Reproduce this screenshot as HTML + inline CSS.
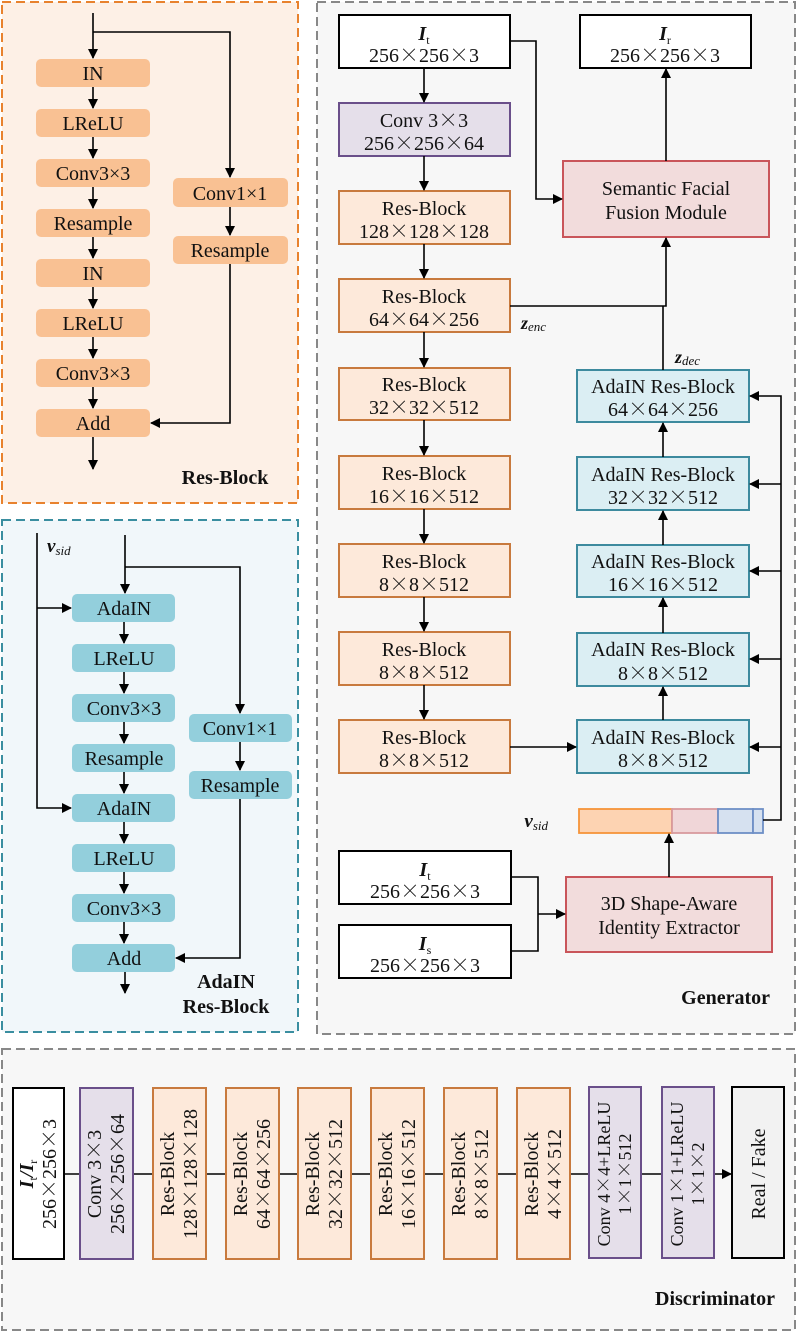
<!DOCTYPE html>
<html><head><meta charset="utf-8"><style>
html,body{margin:0;padding:0;background:#fff;}
svg{display:block;}
text{font-family:"Liberation Serif",serif;fill:#111;}
.x{font-family:"Noto Serif CJK SC","Noto Sans CJK SC",serif;}
</style></head><body>
<svg width="797" height="1333" viewBox="0 0 797 1333" xmlns="http://www.w3.org/2000/svg">
<defs>
<marker id="a" markerWidth="10" markerHeight="10" refX="9" refY="5" orient="auto" markerUnits="userSpaceOnUse">
<path d="M0,0 L10,5 L0,10 z" fill="#000"/></marker>
</defs>
<!-- Res-Block panel -->
<rect x="2" y="2" width="296" height="501" fill="#fdf0e6" stroke="#e8822e" stroke-width="2" stroke-dasharray="9,5"/>
<g fill="#f9c193">
<rect x="36" y="59" width="114" height="28" rx="5"/>
<rect x="36" y="109" width="114" height="28" rx="5"/>
<rect x="36" y="159" width="114" height="28" rx="5"/>
<rect x="36" y="209" width="114" height="28" rx="5"/>
<rect x="36" y="259" width="114" height="28" rx="5"/>
<rect x="36" y="309" width="114" height="28" rx="5"/>
<rect x="36" y="359" width="114" height="28" rx="5"/>
<rect x="36" y="409" width="114" height="28" rx="5"/>
<rect x="173" y="178" width="115" height="29" rx="5"/>
<rect x="173" y="236" width="115" height="28" rx="5"/>
</g>
<g font-size="20" text-anchor="middle">
<text x="93" y="80">IN</text><text x="93" y="130">LReLU</text><text x="93" y="180">Conv3×3</text>
<text x="93" y="230">Resample</text><text x="93" y="280">IN</text><text x="93" y="330">LReLU</text>
<text x="93" y="380">Conv3×3</text><text x="93" y="430">Add</text>
<text x="230" y="200">Conv1×1</text><text x="230" y="257">Resample</text>
</g>
<g stroke="#000" stroke-width="1.6" fill="none">
<line x1="93" y1="13" x2="93" y2="58" marker-end="url(#a)"/>
<line x1="93" y1="87" x2="93" y2="108" marker-end="url(#a)"/>
<line x1="93" y1="137" x2="93" y2="158" marker-end="url(#a)"/>
<line x1="93" y1="187" x2="93" y2="208" marker-end="url(#a)"/>
<line x1="93" y1="237" x2="93" y2="258" marker-end="url(#a)"/>
<line x1="93" y1="287" x2="93" y2="308" marker-end="url(#a)"/>
<line x1="93" y1="337" x2="93" y2="358" marker-end="url(#a)"/>
<line x1="93" y1="387" x2="93" y2="408" marker-end="url(#a)"/>
<line x1="93" y1="437" x2="93" y2="469" marker-end="url(#a)"/>
<polyline points="93,32 230,32 230,177" marker-end="url(#a)"/>
<line x1="230" y1="207" x2="230" y2="235" marker-end="url(#a)"/>
<polyline points="230,264 230,423 151,423" marker-end="url(#a)"/>
</g>
<text x="225" y="484" font-size="20" font-weight="bold" text-anchor="middle">Res-Block</text>

<!-- AdaIN panel -->
<rect x="2" y="520" width="296" height="512" fill="#f1f7fa" stroke="#3a8ea0" stroke-width="2" stroke-dasharray="9,5"/>
<g fill="#93cfdc">
<rect x="72" y="594" width="103" height="28" rx="5"/>
<rect x="72" y="644" width="103" height="28" rx="5"/>
<rect x="72" y="694" width="103" height="28" rx="5"/>
<rect x="72" y="744" width="103" height="28" rx="5"/>
<rect x="72" y="794" width="103" height="28" rx="5"/>
<rect x="72" y="844" width="103" height="28" rx="5"/>
<rect x="72" y="894" width="103" height="28" rx="5"/>
<rect x="72" y="944" width="103" height="28" rx="5"/>
<rect x="189" y="714" width="103" height="28" rx="5"/>
<rect x="189" y="771" width="103" height="28" rx="5"/>
</g>
<g font-size="20" text-anchor="middle">
<text x="124" y="615">AdaIN</text><text x="124" y="665">LReLU</text><text x="124" y="715">Conv3×3</text>
<text x="124" y="765">Resample</text><text x="124" y="815">AdaIN</text><text x="124" y="865">LReLU</text>
<text x="124" y="915">Conv3×3</text><text x="124" y="965">Add</text>
<text x="240" y="735">Conv1×1</text><text x="240" y="792">Resample</text>
</g>
<g stroke="#000" stroke-width="1.6" fill="none">
<line x1="125" y1="535" x2="125" y2="593" marker-end="url(#a)"/>
<line x1="124" y1="622" x2="124" y2="643" marker-end="url(#a)"/>
<line x1="124" y1="672" x2="124" y2="693" marker-end="url(#a)"/>
<line x1="124" y1="722" x2="124" y2="743" marker-end="url(#a)"/>
<line x1="124" y1="772" x2="124" y2="793" marker-end="url(#a)"/>
<line x1="124" y1="822" x2="124" y2="843" marker-end="url(#a)"/>
<line x1="124" y1="872" x2="124" y2="893" marker-end="url(#a)"/>
<line x1="124" y1="922" x2="124" y2="943" marker-end="url(#a)"/>
<line x1="125" y1="972" x2="125" y2="993" marker-end="url(#a)"/>
<polyline points="125,567 240,567 240,713" marker-end="url(#a)"/>
<line x1="240" y1="742" x2="240" y2="770" marker-end="url(#a)"/>
<polyline points="240,799 240,958 176,958" marker-end="url(#a)"/>
<polyline points="37,533 37,808 71,808" marker-end="url(#a)"/>
<line x1="37" y1="608" x2="71" y2="608" marker-end="url(#a)"/>
</g>
<text x="47" y="552" font-size="19" font-weight="bold" font-style="italic">v<tspan font-size="13" font-weight="normal" dy="3">sid</tspan></text>
<text x="226" y="988" font-size="20" font-weight="bold" text-anchor="middle">AdaIN</text>
<text x="226" y="1013" font-size="20" font-weight="bold" text-anchor="middle">Res-Block</text>

<!-- Generator panel -->
<rect x="317" y="2" width="478" height="1032" fill="#f7f7f7" stroke="#888" stroke-width="2" stroke-dasharray="9,5"/>
<g stroke-width="2">
<rect x="339" y="15" width="171" height="53" fill="#fff" stroke="#000"/>
<rect x="580" y="15" width="171" height="53" fill="#fff" stroke="#000"/>
<rect x="339" y="103" width="171" height="53" fill="#e5dfea" stroke="#6a4f8a"/>
<rect x="563" y="161" width="206" height="76" fill="#f2dcdc" stroke="#c9555a"/>
<g fill="#fde9da" stroke="#c87a3e">
<rect x="339" y="191" width="171" height="53"/>
<rect x="339" y="279" width="171" height="53"/>
<rect x="339" y="368" width="171" height="52"/>
<rect x="339" y="456" width="171" height="53"/>
<rect x="339" y="544" width="171" height="53"/>
<rect x="339" y="632" width="171" height="53"/>
<rect x="339" y="720" width="171" height="53"/>
</g>
<g fill="#dbeef3" stroke="#3d8a9e">
<rect x="577" y="370" width="172" height="52"/>
<rect x="577" y="457" width="172" height="53"/>
<rect x="577" y="545" width="172" height="52"/>
<rect x="577" y="633" width="172" height="53"/>
<rect x="577" y="720" width="172" height="53"/>
</g>
<rect x="339" y="851" width="172" height="53" fill="#fff" stroke="#000"/>
<rect x="339" y="925" width="172" height="53" fill="#fff" stroke="#000"/>
<rect x="566" y="877" width="206" height="75" fill="#f2dcdc" stroke="#c9555a"/>
</g>
<g stroke-width="1.8">
<rect x="579" y="809" width="93" height="24" fill="#fdd3b2" stroke="#f5943a"/>
<rect x="672" y="809" width="46" height="24" fill="#f0d6d8" stroke="#d89a9e"/>
<rect x="718" y="809" width="35" height="24" fill="#d6e1f0" stroke="#6e8fc6"/>
<rect x="753" y="809" width="10" height="24" fill="#d6e1f0" stroke="#6e8fc6"/>
</g>
<g font-size="20" text-anchor="middle">
<text x="424" y="40" font-weight="bold" font-style="italic">I<tspan font-size="12" font-weight="normal" font-style="normal" dy="4">t</tspan></text>
<text x="424" y="62">256<tspan class="x">×</tspan>256<tspan class="x">×</tspan>3</text>
<text x="665" y="40" font-weight="bold" font-style="italic">I<tspan font-size="12" font-weight="normal" font-style="normal" dy="4">r</tspan></text>
<text x="665" y="62">256<tspan class="x">×</tspan>256<tspan class="x">×</tspan>3</text>
<text x="424" y="127">Conv  3<tspan class="x">×</tspan>3</text><text x="424" y="150">256<tspan class="x">×</tspan>256<tspan class="x">×</tspan>64</text>
<text x="666" y="195">Semantic Facial</text><text x="666" y="219">Fusion Module</text>
<text x="424" y="215">Res-Block</text><text x="424" y="238">128<tspan class="x">×</tspan>128<tspan class="x">×</tspan>128</text>
<text x="424" y="303">Res-Block</text><text x="424" y="326">64<tspan class="x">×</tspan>64<tspan class="x">×</tspan>256</text>
<text x="424" y="391">Res-Block</text><text x="424" y="414">32<tspan class="x">×</tspan>32<tspan class="x">×</tspan>512</text>
<text x="424" y="480">Res-Block</text><text x="424" y="503">16<tspan class="x">×</tspan>16<tspan class="x">×</tspan>512</text>
<text x="424" y="568">Res-Block</text><text x="424" y="591">8<tspan class="x">×</tspan>8<tspan class="x">×</tspan>512</text>
<text x="424" y="656">Res-Block</text><text x="424" y="679">8<tspan class="x">×</tspan>8<tspan class="x">×</tspan>512</text>
<text x="424" y="744">Res-Block</text><text x="424" y="767">8<tspan class="x">×</tspan>8<tspan class="x">×</tspan>512</text>
<text x="663" y="393">AdaIN Res-Block</text><text x="663" y="416">64<tspan class="x">×</tspan>64<tspan class="x">×</tspan>256</text>
<text x="663" y="481">AdaIN Res-Block</text><text x="663" y="504">32<tspan class="x">×</tspan>32<tspan class="x">×</tspan>512</text>
<text x="663" y="568">AdaIN Res-Block</text><text x="663" y="591">16<tspan class="x">×</tspan>16<tspan class="x">×</tspan>512</text>
<text x="663" y="656">AdaIN Res-Block</text><text x="663" y="680">8<tspan class="x">×</tspan>8<tspan class="x">×</tspan>512</text>
<text x="663" y="744">AdaIN Res-Block</text><text x="663" y="767">8<tspan class="x">×</tspan>8<tspan class="x">×</tspan>512</text>
<text x="425" y="876" font-weight="bold" font-style="italic">I<tspan font-size="12" font-weight="normal" font-style="normal" dy="4">t</tspan></text>
<text x="425" y="898">256<tspan class="x">×</tspan>256<tspan class="x">×</tspan>3</text>
<text x="425" y="950" font-weight="bold" font-style="italic">I<tspan font-size="12" font-weight="normal" font-style="normal" dy="4">s</tspan></text>
<text x="425" y="972">256<tspan class="x">×</tspan>256<tspan class="x">×</tspan>3</text>
<text x="669" y="910">3D Shape-Aware</text><text x="669" y="934">Identity Extractor</text>
</g>
<text x="521" y="329" font-size="18" font-weight="bold" font-style="italic">z<tspan font-size="13" font-weight="normal" dy="2">enc</tspan></text>
<text x="675" y="363" font-size="18" font-weight="bold" font-style="italic">z<tspan font-size="13" font-weight="normal" dy="2">dec</tspan></text>
<text x="548" y="827" font-size="19" font-weight="bold" font-style="italic" text-anchor="end">v<tspan font-size="13" font-weight="normal" dy="3">sid</tspan></text>
<g stroke="#000" stroke-width="1.6" fill="none">
<line x1="424" y1="68" x2="424" y2="102" marker-end="url(#a)"/>
<line x1="424" y1="156" x2="424" y2="190" marker-end="url(#a)"/>
<line x1="424" y1="244" x2="424" y2="278" marker-end="url(#a)"/>
<line x1="424" y1="332" x2="424" y2="367" marker-end="url(#a)"/>
<line x1="424" y1="420" x2="424" y2="455" marker-end="url(#a)"/>
<line x1="424" y1="509" x2="424" y2="543" marker-end="url(#a)"/>
<line x1="424" y1="597" x2="424" y2="631" marker-end="url(#a)"/>
<line x1="424" y1="685" x2="424" y2="719" marker-end="url(#a)"/>
<polyline points="510,41 536,41 536,199 562,199" marker-end="url(#a)"/>
<line x1="666" y1="161" x2="666" y2="69" marker-end="url(#a)"/>
<polyline points="510,306 666,306 666,238" marker-end="url(#a)"/>
<line x1="663" y1="370" x2="663" y2="306"/>
<line x1="663" y1="457" x2="663" y2="423" marker-end="url(#a)"/>
<line x1="663" y1="545" x2="663" y2="511" marker-end="url(#a)"/>
<line x1="663" y1="633" x2="663" y2="598" marker-end="url(#a)"/>
<line x1="663" y1="720" x2="663" y2="687" marker-end="url(#a)"/>
<line x1="510" y1="747" x2="576" y2="747" marker-end="url(#a)"/>
<polyline points="763,820 781,820 781,396 750,396" marker-end="url(#a)"/>
<line x1="781" y1="484" x2="750" y2="484" marker-end="url(#a)"/>
<line x1="781" y1="571" x2="750" y2="571" marker-end="url(#a)"/>
<line x1="781" y1="659" x2="750" y2="659" marker-end="url(#a)"/>
<line x1="781" y1="747" x2="750" y2="747" marker-end="url(#a)"/>
<line x1="669" y1="877" x2="669" y2="834" marker-end="url(#a)"/>
<polyline points="511,877 538,877 538,951 511,951"/>
<line x1="538" y1="914" x2="565" y2="914" marker-end="url(#a)"/>
</g>
<text x="770" y="1004" font-size="20" font-weight="bold" text-anchor="end">Generator</text>

<!-- Discriminator panel -->
<rect x="2" y="1049" width="793" height="281" fill="#f7f7f7" stroke="#888" stroke-width="2" stroke-dasharray="9,5"/>
<line x1="64" y1="1174" x2="731" y2="1174" stroke="#000" stroke-width="1.6" marker-end="url(#a)"/>
<g stroke-width="2">
<rect x="13" y="1088" width="51" height="171" fill="#fff" stroke="#000"/>
<rect x="80" y="1088" width="53" height="171" fill="#e5dfea" stroke="#6a4f8a"/>
<g fill="#fde9da" stroke="#c87a3e">
<rect x="153" y="1088" width="53" height="171"/>
<rect x="226" y="1088" width="53" height="171"/>
<rect x="298" y="1088" width="53" height="171"/>
<rect x="371" y="1088" width="53" height="171"/>
<rect x="444" y="1088" width="53" height="171"/>
<rect x="517" y="1088" width="53" height="171"/>
</g>
<rect x="589" y="1087" width="52" height="171" fill="#e5dfea" stroke="#6a4f8a"/>
<rect x="662" y="1087" width="52" height="171" fill="#e5dfea" stroke="#6a4f8a"/>
<rect x="732" y="1087" width="52" height="171" fill="#f2f2f2" stroke="#000"/>
</g>
<g font-size="20" text-anchor="middle">
<text transform="translate(38,1174) rotate(-90)"><tspan x="0" y="-5" font-weight="bold" font-style="italic">I<tspan font-size="12" font-weight="normal" font-style="normal" dy="4">t</tspan><tspan dy="-4">/</tspan>I<tspan font-size="12" font-weight="normal" font-style="normal" dy="4">r</tspan></tspan><tspan x="0" y="18">256<tspan class="x">×</tspan>256<tspan class="x">×</tspan>3</tspan></text>
<text transform="translate(106,1174) rotate(-90)"><tspan x="0" y="-5">Conv  3<tspan class="x">×</tspan>3</tspan><tspan x="0" y="18">256<tspan class="x">×</tspan>256<tspan class="x">×</tspan>64</tspan></text>
<text transform="translate(179,1174) rotate(-90)"><tspan x="0" y="-5">Res-Block</tspan><tspan x="0" y="18">128<tspan class="x">×</tspan>128<tspan class="x">×</tspan>128</tspan></text>
<text transform="translate(252,1174) rotate(-90)"><tspan x="0" y="-5">Res-Block</tspan><tspan x="0" y="18">64<tspan class="x">×</tspan>64<tspan class="x">×</tspan>256</tspan></text>
<text transform="translate(324,1174) rotate(-90)"><tspan x="0" y="-5">Res-Block</tspan><tspan x="0" y="18">32<tspan class="x">×</tspan>32<tspan class="x">×</tspan>512</tspan></text>
<text transform="translate(397,1174) rotate(-90)"><tspan x="0" y="-5">Res-Block</tspan><tspan x="0" y="18">16<tspan class="x">×</tspan>16<tspan class="x">×</tspan>512</tspan></text>
<text transform="translate(470,1174) rotate(-90)"><tspan x="0" y="-5">Res-Block</tspan><tspan x="0" y="18">8<tspan class="x">×</tspan>8<tspan class="x">×</tspan>512</tspan></text>
<text transform="translate(543,1174) rotate(-90)"><tspan x="0" y="-5">Res-Block</tspan><tspan x="0" y="18">4<tspan class="x">×</tspan>4<tspan class="x">×</tspan>512</tspan></text>
<text transform="translate(615,1174) rotate(-90)" font-size="18"><tspan x="0" y="-5">Conv  4<tspan class="x">×</tspan>4+LReLU</tspan><tspan x="0" y="16">1<tspan class="x">×</tspan>1<tspan class="x">×</tspan>512</tspan></text>
<text transform="translate(688,1174) rotate(-90)" font-size="18"><tspan x="0" y="-5">Conv  1<tspan class="x">×</tspan>1+LReLU</tspan><tspan x="0" y="16">1<tspan class="x">×</tspan>1<tspan class="x">×</tspan>2</tspan></text>
<text transform="translate(758,1174) rotate(-90)"><tspan x="0" y="7">Real / Fake</tspan></text>
</g>
<text x="775" y="1305" font-size="20" font-weight="bold" text-anchor="end">Discriminator</text>
</svg>
</body></html>
